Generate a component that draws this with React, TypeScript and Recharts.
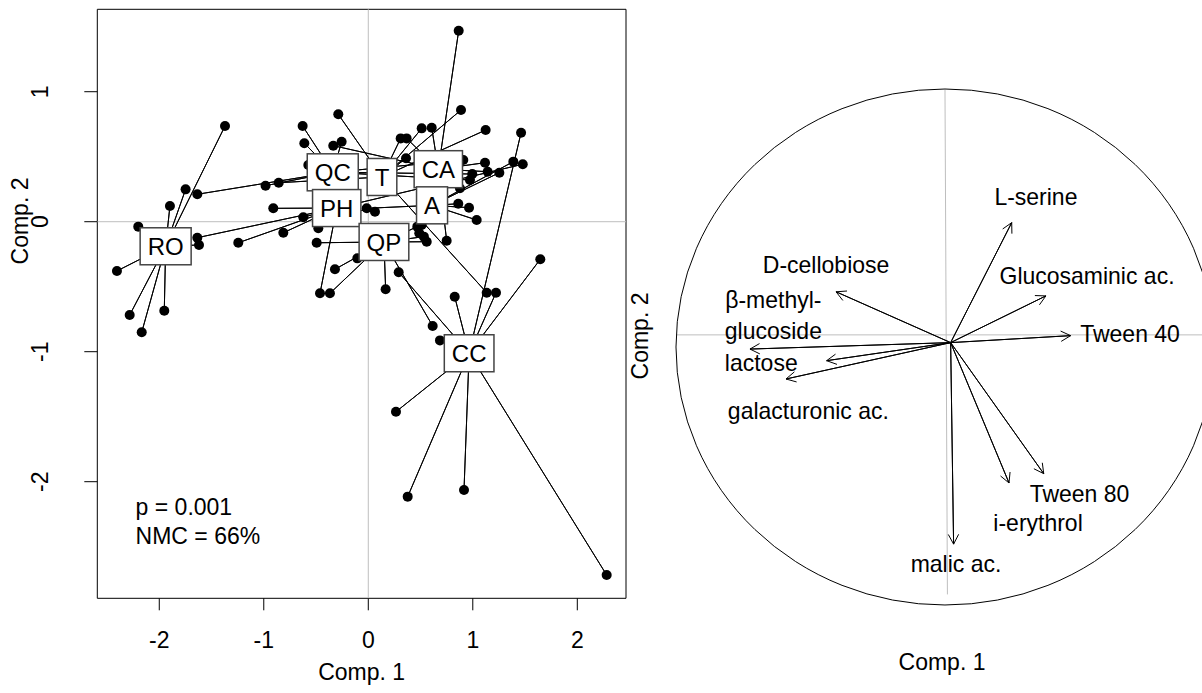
import React from 'react'
import { ScatterChart, Scatter, XAxis, YAxis, ReferenceLine, ReferenceArea } from 'recharts'

const FONT = '"Liberation Sans", Arial, Helvetica, sans-serif'

// ---- left panel: sites on comp. 1 / comp. 2, star per group ----
const groupNames = ['RO', 'QC', 'PH', 'T', 'QP', 'CA', 'A', 'CC']
const groupX = [-1.939, -0.34, -0.302, 0.131, 0.15, 0.67, 0.61, 0.965]
const groupY = [-0.189, 0.38, 0.105, 0.344, -0.156, 0.404, 0.126, -1.012]

const siteGroup = [
  'RO', 'RO', 'RO', 'RO', 'RO', 'RO', 'RO', 'RO', 'RO',
  'QC', 'QC', 'QC', 'QC', 'QC', 'QC', 'QC', 'QC', 'QC',
  'PH', 'PH', 'PH', 'PH', 'PH', 'PH', 'PH', 'PH', 'PH',
  'T', 'T', 'T', 'T', 'T', 'T', 'T', 'T',
  'QP', 'QP', 'QP', 'QP', 'QP', 'QP', 'QP', 'QP', 'QP',
  'CA', 'CA', 'CA', 'CA', 'CA', 'CA', 'CA', 'CA', 'CA',
  'A', 'A', 'A', 'A', 'A', 'A', 'A',
  'CC', 'CC', 'CC', 'CC', 'CC', 'CC', 'CC', 'CC', 'CC', 'CC',
]
const siteX = [
  -1.371, -1.748, -1.898, -2.201, -2.405, -2.283, -2.168, -1.952, -1.62,
  -1.636, -0.983, -0.628, -0.612, -0.574, -0.255, 0.909, 0.995, 0.973,
  -1.636, -1.244, -0.909, -0.813, -0.622, -0.478, -0.462, 0.064, 1.478,
  -0.857, -0.287, 0.31, 0.361, 0.511, 0.887, 1.123, 1.133,
  -0.494, -0.319, -0.105, -0.367, 0.166, 0.559, 0.616, 0.532, 0.469,
  -0.335, 0.367, 0.607, 0.865, 1.142, 1.117, 0.877, 0.75, 0.511,
  -0.015, 1.388, 1.254, 0.861, 0.964, 1.037, 0.488,
  0.291, 1.462, 1.646, 1.222, 0.827, 0.686, 0.265, 0.377, 0.916, 2.281,
]
const siteY = [
  0.736, 0.249, 0.121, -0.038, -0.379, -0.718, -0.851, -0.685, -0.179,
  0.211, 0.277, 0.736, 0.604, 0.436, 0.615, 0.475, 0.367, 0.321,
  -0.123, -0.162, 0.103, -0.085, 0.034, -0.051, -0.551, 0.077, 0.442,
  0.3, 0.826, 0.641, 0.488, 0.718, 0.859, 0.705, -0.546,
  -0.162, -0.366, -0.282, -0.551, -0.52, -0.154, -0.802, -0.115, -0.038,
  0.585, 0.641, 0.723, 1.469, 0.385, 0.454, 0.257, -0.146, -0.025,
  0.103, 0.462, 0.377, 0.138, 0.108, 0.013, -0.089,
  -0.389, 0.685, -0.289, -0.546, -0.577, -0.913, -1.462, -2.115, -2.064, -2.718,
]

const xTicks = [-2, -1, 0, 1, 2]
const yTicks = [-2, -1, 0, 1]
const statLines = ['p = 0.001', 'NMC = 66%']

// ---- right panel: correlation circle ----
const varNames = [
  'L-serine', 'Glucosaminic ac.', 'Tween 40', 'D-cellobiose', 'β-methyl-\nglucoside',
  'lactose', 'galacturonic ac.', 'Tween 80', 'i-erythrol', 'malic ac.',
]
const varX = [0.248, 0.375, 0.467, -0.405, -0.44, -0.725, -0.591, 0.367, 0.238, 0.032]
const varY = [0.482, 0.198, 0.044, 0.214, -0.053, -0.008, -0.124, -0.491, -0.527, -0.764]
const varLabelX = [0.338, 0.528, 0.688, -0.442, -0.638, -0.683, -0.508, 0.5, 0.346, 0.041]
const varLabelY = [0.581, 0.275, 0.052, 0.318, 0.123, -0.062, -0.248, -0.568, -0.682, -0.84]
const varOrigin = [0.021, 0.017]

// ---- geometry ----
const L_XD: [number, number] = [-2.593, 2.466]
const L_YD: [number, number] = [-2.897, 1.634]

const R_XD: [number, number] = [-1.1, 0.96]
const R_YD: [number, number] = [-1.14, 1.23]
const R_KX = 269
const R_KY = 258
const R_PLOT_W = (R_XD[1] - R_XD[0]) * R_KX
const R_PLOT_H = (R_YD[1] - R_YD[0]) * R_KY
const R_MARGIN = { top: 29.66, left: 9.1, right: 0, bottom: 693 - 29.66 - R_PLOT_H }

const charW: Record<string, number> = { Q: 0.778, C: 0.722, P: 0.667, H: 0.722, T: 0.611, A: 0.667, R: 0.722, O: 0.778 }
function boxWidth(s: string, fs: number) {
  let w = 0
  for (const ch of s) w += charW[ch] ?? 0.65
  return w * fs + 15
}

const XTick = (p: any) => (
  <text x={p.x} y={p.y + 38} textAnchor="middle" fontSize={23} fontFamily={FONT} fill="#000">
    {p.payload.value}
  </text>
)

const YTick = (p: any) => {
  const bx = p.x - 36
  return (
    <text x={bx} y={p.y} transform={`rotate(-90, ${bx}, ${p.y})`} textAnchor="middle" fontSize={23} fontFamily={FONT} fill="#000">
      {p.payload.value}
    </text>
  )
}

const Dot = (p: any) => <circle cx={p.cx} cy={p.cy} r={5} fill="#000" />

const LabelBox = (p: any) => {
  const { cx, cy, payload } = p
  const w = boxWidth(payload.name, 24)
  const h = 37
  return (
    <g>
      <rect x={cx - w / 2} y={cy - h / 2} width={w} height={h} fill="#fff" stroke="#444" strokeWidth={1.5} />
      <text x={cx} y={cy} dy="0.36em" textAnchor="middle" fontSize={24} fontFamily={FONT} fill="#000">
        {payload.name}
      </text>
    </g>
  )
}

function LeftPanel() {
  const sites = siteX.map((x, i) => ({ x, y: siteY[i], g: siteGroup[i] }))
  const stars = groupNames.map((name, gi) => {
    const c = { x: groupX[gi], y: groupY[gi] }
    const pts: { x: number; y: number }[] = []
    sites.forEach((s) => {
      if (s.g === name) pts.push(c, s)
    })
    pts.push(c)
    return { name, pts }
  })
  const labels = groupNames.map((name, i) => ({ x: groupX[i], y: groupY[i], name }))

  return (
    <ScatterChart width={640} height={693} margin={{ top: 9.3, right: 14, bottom: 34.7, left: 37.3 }}>
      <XAxis
        type="number" dataKey="x" domain={L_XD} allowDataOverflow ticks={xTicks} interval={0}
        height={60} tickSize={12} tickMargin={0} axisLine={false}
        tickLine={{ stroke: '#000' }} tick={XTick}
      />
      <YAxis
        type="number" dataKey="y" domain={L_YD} allowDataOverflow ticks={yTicks} interval={0}
        width={60} tickSize={13} tickMargin={0} axisLine={false}
        tickLine={{ stroke: '#000' }} tick={YTick}
      />
      <ReferenceLine x={0} stroke="#bebebe" />
      <ReferenceLine y={0} stroke="#bebebe" />
      <ReferenceArea x1={L_XD[0]} x2={L_XD[1]} y1={L_YD[0]} y2={L_YD[1]} fill="none" fillOpacity={0} stroke="#000" strokeWidth={1} />
      {stars.map((s) => (
        <Scatter key={s.name} data={s.pts} line={{ stroke: '#000', strokeWidth: 1 }} shape={() => <g />} isAnimationActive={false} />
      ))}
      <Scatter data={sites} shape={Dot} isAnimationActive={false} />
      <Scatter data={labels} shape={LabelBox} isAnimationActive={false} />
    </ScatterChart>
  )
}

const ArrowHead = (p: any) => {
  const { cx, cy, payload } = p
  if (!payload.tip) return <g />
  const a = Math.atan2(payload.dy, payload.dx)
  const L = 11
  const s = (28 * Math.PI) / 180
  const x1 = cx - L * Math.cos(a - s)
  const y1 = cy - L * Math.sin(a - s)
  const x2 = cx - L * Math.cos(a + s)
  const y2 = cy - L * Math.sin(a + s)
  return <path d={`M${x1},${y1}L${cx},${cy}L${x2},${y2}`} fill="none" stroke="#000" strokeWidth={1} />
}

const VarLabel = (p: any) => {
  const { cx, cy, payload } = p
  const lines: string[] = payload.name.split('\n')
  const lh = 30.6
  const y0 = cy - ((lines.length - 1) * lh) / 2
  return (
    <text textAnchor="middle" fontSize={23} fontFamily={FONT} fill="#000">
      {lines.map((l, k) => (
        <tspan key={k} x={cx} y={y0 + k * lh} dy="0.35em">{l}</tspan>
      ))}
    </text>
  )
}

const Circle = (p: any) => <ellipse cx={p.cx} cy={p.cy} rx={R_KX} ry={R_KY} fill="none" stroke="#000" strokeWidth={1} />

function RightPanel() {
  const arrows: any[] = []
  varNames.forEach((n, i) => {
    arrows.push({ x: varOrigin[0], y: varOrigin[1], tip: false })
    arrows.push({
      x: varX[i], y: varY[i], tip: true,
      dx: (varX[i] - varOrigin[0]) * R_KX,
      dy: -(varY[i] - varOrigin[1]) * R_KY,
    })
  })
  arrows.push({ x: varOrigin[0], y: varOrigin[1], tip: false })
  const labels = varNames.map((name, i) => ({ x: varLabelX[i], y: varLabelY[i], name }))

  return (
    <ScatterChart width={R_MARGIN.left + R_PLOT_W} height={693} margin={R_MARGIN}>
      <XAxis type="number" dataKey="x" domain={R_XD} allowDataOverflow hide />
      <YAxis type="number" dataKey="y" domain={R_YD} allowDataOverflow hide />
      <ReferenceLine segment={[{ x: -1, y: 0.047 }, { x: 0.96, y: 0.047 }]} stroke="#bebebe" ifOverflow="visible" />
      <ReferenceLine segment={[{ x: 0, y: 0.998 }, { x: 0.009, y: -0.959 }]} stroke="#bebebe" ifOverflow="visible" />
      <Scatter data={[{ x: 0, y: 0 }]} shape={Circle} isAnimationActive={false} />
      <Scatter data={arrows} line={{ stroke: '#000', strokeWidth: 1 }} shape={ArrowHead} isAnimationActive={false} />
      <Scatter data={labels} shape={VarLabel} isAnimationActive={false} />
    </ScatterChart>
  )
}

export default function App() {
  return (
    <div style={{ position: 'absolute', left: 0, top: 0, width: 1202, height: 693, overflow: 'hidden', background: '#fff' }}>
      <div style={{ position: 'absolute', left: 0, top: 0 }}>
        <LeftPanel />
      </div>
      <div style={{ position: 'absolute', left: 640, top: 0 }}>
        <RightPanel />
      </div>
      <svg width={1202} height={693} style={{ position: 'absolute', left: 0, top: 0, pointerEvents: 'none' }}>
        <g fontFamily={FONT} fontSize={23} fill="#000">
          <text x={361.7} y={680} textAnchor="middle">Comp. 1</text>
          <text x={28} y={221} transform="rotate(-90, 28, 221)" textAnchor="middle">Comp. 2</text>
          <text x={135.6} y={515}>{statLines[0]}</text>
          <text x={135.6} y={544}>{statLines[1]}</text>
          <text x={942} y={670} textAnchor="middle">Comp. 1</text>
          <text x={648} y={336} transform="rotate(-90, 648, 336)" textAnchor="middle">Comp. 2</text>
        </g>
      </svg>
    </div>
  )
}
